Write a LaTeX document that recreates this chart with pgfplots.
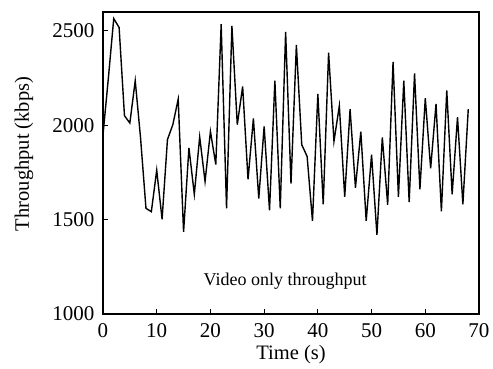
\documentclass[border=0pt]{standalone}
\usepackage{fontspec}
\setmainfont{Liberation Serif}
\usepackage{pgfplots}
\pgfplotsset{compat=1.18}
\begin{document}
\begin{tikzpicture}
\begin{axis}[
  scale only axis,
  width=376pt, height=302pt,
  xmin=0, xmax=70, ymin=1000, ymax=2600,
  xtick={0,10,...,70}, ytick={1000,1500,2000,2500},
  xtick pos=bottom, ytick pos=left,
  tick align=inside,
  major tick length=5pt,
  axis line style={line width=1.1pt},
  every tick/.style={line width=1pt, black},
  /pgf/number format/assume math mode=true,
  /pgf/number format/set thousands separator={},
  tick label style={font=\fontsize{21}{25}\selectfont},
  xticklabel style={yshift=-6pt},
  yticklabel style={xshift=-5pt},
  xlabel={Time (s)},
  ylabel={Throughput (kbps)},
  every axis x label/.style={at={(axis description cs:0.5,-0.135)}, anchor=center, font=\fontsize{20.5}{24}\selectfont},
  every axis y label/.style={at={(axis description cs:-0.21,0.53)}, rotate=90, anchor=center, font=\fontsize{20.5}{24}\selectfont},
  clip=false,
]
\addplot[black, line width=1.4pt, line join=miter] coordinates {
(0,1950) (1,2250) (2,2565) (3,2518) (4,2050) (5,2012) (6,2236) (7,1930)
(8,1560) (9,1542) (10,1762) (11,1502) (12,1924) (13,2003) (14,2138)
(15,1435) (16,1880) (17,1634) (18,1938) (19,1702) (20,1967) (21,1792)
(22,2535) (23,1560) (24,2526) (25,2003) (26,2205) (27,1713) (28,2036)
(29,1612) (30,1994) (31,1549) (32,2236) (33,1560) (34,2495) (35,1691)
(36,2425) (37,1897) (38,1835) (39,1493) (40,2166) (41,1581) (42,2384)
(43,1915) (44,2103) (45,1621) (46,2085) (47,1669) (48,1966) (49,1493)
(50,1844) (51,1419) (52,1936) (53,1579) (54,2335) (55,1621) (56,2236)
(57,1593) (58,2275) (59,1660) (60,2143) (61,1772) (62,2113) (63,1544)
(64,2184) (65,1634) (66,2043) (67,1581) (68,2085)
};
\node[font=\fontsize{18}{21}\selectfont] at (axis cs:33.9,1175) {Video only throughput};
\end{axis}
\path ([xshift=-103pt,yshift=-55pt]current axis.south west) rectangle ([xshift=14pt,yshift=12pt]current axis.north east);
\end{tikzpicture}
\end{document}
